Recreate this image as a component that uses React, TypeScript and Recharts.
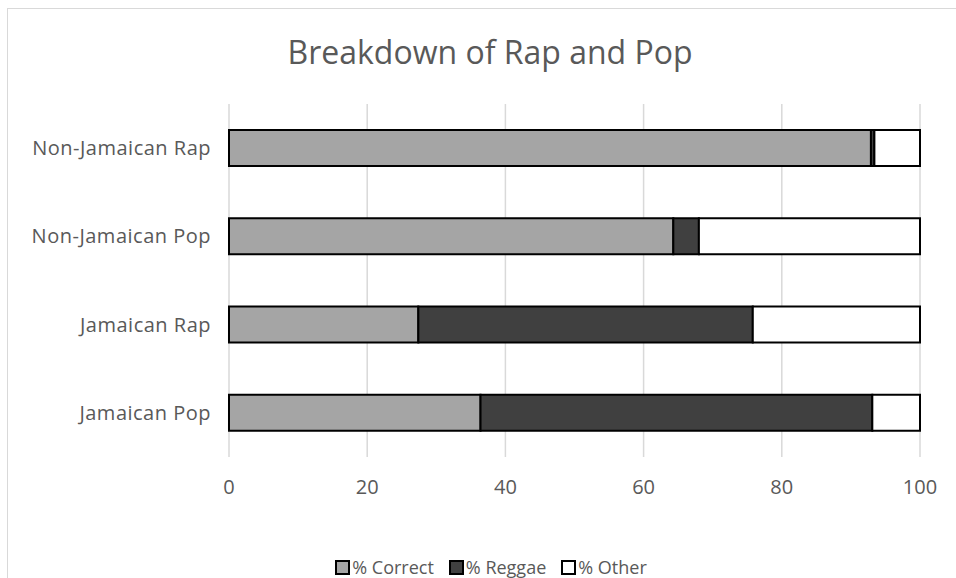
import { BarChart, Bar, XAxis, YAxis, CartesianGrid } from "recharts"

const categories = ["Non-Jamaican Rap", "Non-Jamaican Pop", "Jamaican Rap", "Jamaican Pop"]
const correct = [92.9, 64.3, 27.4, 36.4]
const reggae = [0.5, 3.7, 48.4, 56.7]
const other = [6.6, 32.0, 24.2, 6.9]
const xTicks = [0, 20, 40, 60, 80, 100]

const series = [
  { key: "correct", name: "% Correct", fill: "#a5a5a5" },
  { key: "reggae", name: "% Reggae", fill: "#404040" },
  { key: "other", name: "% Other", fill: "#ffffff" },
]

const data = categories.map((name, i) => ({
  name,
  correct: correct[i],
  reggae: reggae[i],
  other: other[i],
}))

const FONT = "'Open Sans', sans-serif"
const TEXT = "#595959"

export default function App() {
  return (
    <div
      style={{
        position: "absolute",
        left: 0,
        top: 0,
        width: 956,
        height: 578,
        background: "#fff",
        overflow: "hidden",
        fontFamily: FONT,
      }}
    >
      {/* chart frame */}
      <div
        style={{
          position: "absolute",
          left: 7,
          top: 8,
          width: 1000,
          height: 700,
          border: "1px solid #d9d9d9",
        }}
      />
      <div
        style={{
          position: "absolute",
          left: 0,
          top: 30,
          width: 980,
          textAlign: "center",
          fontSize: 32,
          color: TEXT,
          lineHeight: "44px",
        }}
      >
        Breakdown of Rap and Pop
      </div>
      <div style={{ position: "absolute", left: 0, top: 0 }}>
        <BarChart
          width={956}
          height={578}
          data={data}
          layout="vertical"
          barSize={36}
          margin={{ top: 104, right: 36, left: 0, bottom: 91 }}
        >
          <CartesianGrid horizontal={false} stroke="#d9d9d9" strokeWidth={1.5} />
          <XAxis
            type="number"
            domain={[0, 100]}
            ticks={xTicks}
            axisLine={false}
            tickLine={false}
            tickSize={0}
            tickMargin={23}
            height={30}
            tick={{ fill: TEXT, fontSize: 20, fontFamily: FONT }}
          />
          <YAxis
            type="category"
            dataKey="name"
            width={229}
            axisLine={false}
            tickLine={false}
            tickSize={0}
            tickMargin={18}
            tick={{ fill: TEXT, fontSize: 20, fontFamily: FONT, letterSpacing: 0.5 }}
          />
          {series.map((s) => (
            <Bar
              key={s.key}
              dataKey={s.key}
              name={s.name}
              stackId="a"
              fill={s.fill}
              stroke="#000"
              strokeWidth={2}
              isAnimationActive={false}
            />
          ))}
        </BarChart>
      </div>
      {/* legend */}
      <div
        style={{
          position: "absolute",
          left: 0,
          top: 557,
          width: 982,
          display: "flex",
          justifyContent: "center",
          gap: 15,
          fontSize: 18,
          color: TEXT,
          lineHeight: "20px",
        }}
      >
        {series.map((s) => (
          <div key={s.key} style={{ display: "flex", alignItems: "center" }}>
            <span
              style={{
                display: "inline-block",
                width: 11,
                height: 11,
                background: s.fill,
                border: "2px solid #000",
                marginRight: 2,
              }}
            />
            {s.name}
          </div>
        ))}
      </div>
    </div>
  )
}
